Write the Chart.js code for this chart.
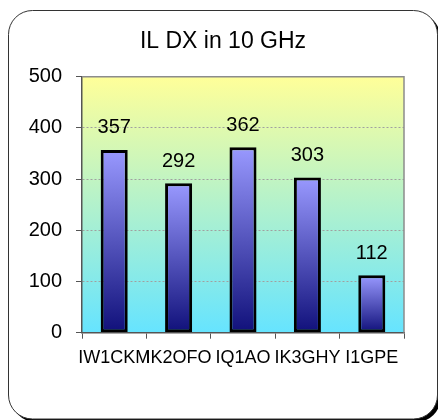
<!DOCTYPE html>
<html>
<head>
<meta charset="utf-8">
<script src="https://cdn.jsdelivr.net/npm/chart.js@4/dist/chart.umd.min.js"></script>
<style>
    html, body { margin: 0; padding: 0; background: #fff; }
    #wrap { width: 438px; height: 420px; }
</style>
</head>
<body>
<div id="wrap"><canvas id="dxChart" width="438" height="420"></canvas></div>
<script>
const chartTitle = 'IL DX in 10 GHz';
const stations = ['IW1CKM', 'IK2OFO', 'IQ1AO', 'IK3GHY', 'I1GPE'];
const distances = [357, 292, 362, 303, 112];
const yTicks = [0, 100, 200, 300, 400, 500];

const FONT = "'Liberation Sans', Arial, sans-serif";

// outer rounded frame with a dark shadow, plot background and title
const framePlugin = {
    id: 'frame',
    beforeDraw(chart) {
        const ctx = chart.ctx;
        ctx.save();
        ctx.fillStyle = '#fff';
        ctx.fillRect(0, 0, chart.width, chart.height);
        ctx.fillStyle = '#000';
        ctx.beginPath();
        ctx.roundRect(11.5, 13.5, 429, 408.5, 24);
        ctx.fill();
        ctx.fillStyle = '#fff';
        ctx.strokeStyle = '#333';
        ctx.lineWidth = 1;
        ctx.beginPath();
        ctx.roundRect(8.5, 10.5, 429, 408.5, 24);
        ctx.fill();
        ctx.stroke();

        const a = chart.chartArea;
        const g = ctx.createLinearGradient(0, a.top, 0, a.bottom);
        g.addColorStop(0, '#ffff99');
        g.addColorStop(1, '#66e4ff');
        ctx.fillStyle = g;
        ctx.fillRect(a.left, a.top, a.right - a.left, a.bottom - a.top);

        ctx.fillStyle = '#000';
        ctx.font = '23px ' + FONT;
        ctx.textAlign = 'center';
        ctx.textBaseline = 'middle';
        ctx.fillText(chartTitle, 223, 42);
        ctx.restore();
    },
    afterDraw(chart) {
        const ctx = chart.ctx;
        const a = chart.chartArea;
        ctx.save();
        ctx.strokeStyle = '#8c8c8c';
        ctx.lineWidth = 1.5;
        ctx.beginPath();
        ctx.moveTo(a.left, a.top);
        ctx.lineTo(a.right, a.top);
        ctx.lineTo(a.right, a.bottom);
        ctx.stroke();
        ctx.restore();
    },
};

const valueLabels = {
    id: 'valueLabels',
    afterDatasetsDraw(chart) {
        const ctx = chart.ctx;
        const meta = chart.getDatasetMeta(0);
        ctx.save();
        ctx.font = '20px ' + FONT;
        ctx.fillStyle = '#000';
        ctx.textAlign = 'center';
        ctx.textBaseline = 'middle';
        meta.data.forEach((bar, i) => {
            ctx.fillText(String(distances[i]), bar.x, bar.y - 22);
        });
        ctx.restore();
    },
};

function barGradient(c) {
    const chart = c.chart;
    if (!chart.chartArea) return '#9999ff';
    const y = chart.scales.y;
    const top = y.getPixelForValue(distances[c.dataIndex]);
    const bottom = y.getPixelForValue(0);
    const g = chart.ctx.createLinearGradient(0, top, 0, bottom);
    g.addColorStop(0, '#9999ff');
    g.addColorStop(1, '#10107a');
    return g;
}

new Chart(document.getElementById('dxChart').getContext('2d'), {
    type: 'bar',
    data: {
        labels: stations,
        datasets: [{
            data: distances,
            backgroundColor: barGradient,
            borderColor: '#000',
            borderWidth: 3,
            borderSkipped: false,
            barPercentage: 0.42,
            categoryPercentage: 1,
        }],
    },
    plugins: [framePlugin, valueLabels],
    options: {
        responsive: false,
        animation: false,
        devicePixelRatio: 1,
        layout: { padding: { left: 10, right: 34, top: 76.7, bottom: 0 } },
        plugins: {
            legend: { display: false },
            tooltip: { enabled: false },
            title: { display: false },
        },
        scales: {
            x: {
                afterFit(scale) { scale.height = 87.3; },
                ticks: {
                    color: '#000',
                    font: { family: FONT, size: 18 },
                    maxRotation: 0,
                    minRotation: 0,
                    autoSkip: false,
                    padding: 9,
                },
                grid: {
                    offset: true,
                    drawOnChartArea: false,
                    color: '#555',
                    tickLength: 6,
                },
                border: { color: '#555', width: 1.5 },
            },
            y: {
                min: 0,
                max: 500,
                afterFit(scale) { scale.width = 72; },
                afterBuildTicks(scale) {
                    scale.ticks = yTicks.map((v) => ({ value: v }));
                },
                ticks: {
                    color: '#000',
                    font: { family: FONT, size: 20 },
                    padding: 14,
                },
                grid: {
                    color: '#a0a0a0',
                    tickColor: '#555',
                    tickLength: 6,
                    tickBorderDash: [],
                },
                border: { color: '#555', width: 1.5, dash: [2, 2] },
            },
        },
    },
});
</script>
</body>
</html>
